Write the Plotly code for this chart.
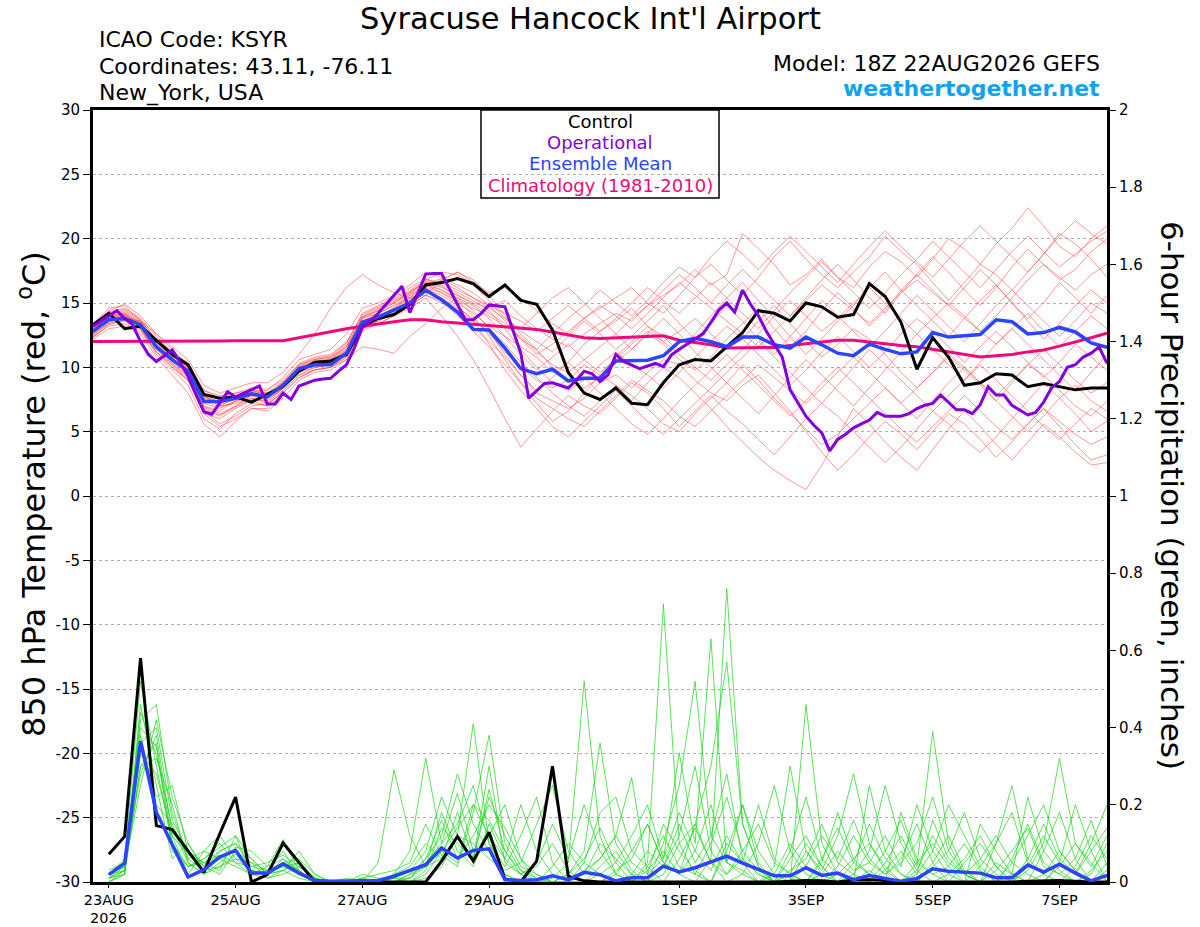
import plotly.graph_objects as go
import pandas as pd

# ---------------- data ----------------
t6 = pd.date_range("2026-08-22 18:00", periods=65, freq="6h")
t3 = pd.date_range("2026-08-22 18:00", periods=129, freq="3h")
tp = t6[1:]

control_t = [13.3, 14.2, 13.0, 13.2, 12.1, 11.0, 10.2, 7.9, 7.6, 7.7,
             7.3, 7.9, 8.5, 9.7, 10.4, 10.5, 11.0, 13.2, 13.8, 14.1,
             14.9, 16.4, 16.6, 16.9, 16.5, 15.5, 16.4, 15.2, 14.9, 12.9,
             9.6, 8.0, 7.5, 8.4, 7.2, 7.1, 8.8, 10.2, 10.6, 10.5,
             11.6, 12.7, 14.4, 14.2, 13.6, 15.0, 14.7, 13.9, 14.1, 16.5,
             15.5, 13.5, 9.85, 12.3, 10.8, 8.6, 8.8, 9.5, 9.4, 8.5,
             8.75, 8.5, 8.25, 8.4, 8.4]

operational_t = [13.2, 13.6, 14.0, 14.4, 13.8, 13.3, 12.0, 11.0, 10.45, 10.9,
                 11.35, 10.4, 9.3, 7.9, 6.55, 6.35, 7.2, 8.1, 7.7, 8.0,
                 8.3, 8.55, 7.15, 7.15, 8.0, 7.5, 8.55, 8.8, 9.0, 9.1,
                 9.15, 9.7, 10.2, 11.5, 13.1, 13.6, 14.2, 14.9, 15.6, 16.3,
                 14.25, 15.8, 17.25, 17.3, 17.3, 16.1, 14.9, 13.7, 13.7, 14.2,
                 14.85, 14.8, 14.7, 12.9, 11.1, 7.6, 8.2, 8.75, 8.8, 8.6,
                 8.4, 9.0, 9.7, 9.5, 8.9, 9.4, 11.0, 10.45, 10.2, 9.9,
                 10.1, 10.3, 10.05, 10.95, 11.4, 11.8, 12.2, 12.6, 13.5, 14.45,
                 15.0, 14.3, 16.0, 14.9, 14.0, 12.8, 11.8, 10.8, 8.25, 7.2,
                 6.2, 5.5, 4.9, 3.5, 4.4, 4.8, 5.3, 5.6, 5.9, 6.5,
                 6.2, 6.2, 6.2, 6.4, 6.8, 7.05, 7.2, 7.85, 7.3, 6.7,
                 6.7, 6.4, 7.1, 8.5, 7.85, 7.85, 7.05, 6.7, 6.3, 6.5,
                 7.3, 8.4, 8.9, 10.0, 10.2, 10.8, 11.1, 11.6, 10.3]

mean_t = [12.8, 13.7, 13.8, 13.3, 11.6, 10.6, 9.7, 7.35, 7.35, 7.6,
          7.95, 7.7, 8.6, 9.9, 10.2, 10.2, 11.1, 13.5, 13.9, 14.45,
          15.0, 16.0, 15.25, 14.3, 12.95, 12.9, 11.5, 9.9, 9.5, 9.85,
          8.95, 9.15, 9.15, 10.5, 10.55, 10.55, 10.9, 12.0, 12.25, 12.0,
          11.6, 12.35, 12.35, 11.75, 11.5, 12.35, 11.75, 11.1, 10.9, 11.8,
          11.4, 11.05, 11.2, 12.7, 12.35, 12.45, 12.55, 13.7, 13.55, 12.6,
          12.7, 13.1, 12.75, 11.9, 11.55]

climatology_t = [12.0, 12.0, 12.0, 12.0, 12.0, 12.02, 12.03, 12.05, 12.05, 12.06,
                 12.06, 12.06, 12.07, 12.3, 12.55, 12.8, 13.0, 13.2, 13.4, 13.55,
                 13.7, 13.7, 13.55, 13.45, 13.35, 13.25, 13.15, 13.05, 12.95, 12.75,
                 12.5, 12.3, 12.25, 12.3, 12.35, 12.4, 12.45, 12.1, 11.95, 11.75,
                 11.5, 11.5, 11.5, 11.55, 11.7, 11.85, 12.0, 12.1, 12.1, 11.95,
                 11.85, 11.7, 11.6, 11.4, 11.2, 11.0, 10.8, 10.9, 11.0, 11.2,
                 11.35, 11.65, 11.95, 12.3, 12.65]

member_01 = [13.2, 14.3, 14.6, 13.8, 12.4, 11.2, 10.0, 8.2, 7.6, 8.0, 8.4, 8.3, 9.0,
             10.3, 10.8, 11.0, 12.0, 14.0, 14.6, 15.2, 15.8, 16.6, 16.2, 15.6, 15.0, 14.6,
             15.2, 14.0, 13.0, 12.2, 11.6, 12.6, 13.4, 14.2, 13.6, 14.8, 15.6, 16.4, 17.6,
             16.4, 17.2, 20.4, 19.2, 18.0, 16.4, 17.2, 18.4, 17.0, 16.2, 17.8, 19.0, 18.2,
             17.0, 18.4, 20.0, 19.2, 18.0, 19.6, 20.8, 22.4, 21.0, 19.4, 18.6, 20.0, 21.0]
member_02 = [12.6, 13.4, 13.6, 13.0, 11.0, 9.8, 8.6, 6.0, 5.2, 6.4, 7.2, 7.0, 8.2,
             9.4, 9.8, 10.0, 10.8, 13.2, 13.6, 14.2, 14.8, 15.6, 15.0, 14.4, 13.6, 12.8,
             11.0, 9.4, 8.0, 7.4, 6.8, 7.6, 8.8, 9.4, 8.4, 9.6, 10.6, 10.2, 9.0,
             8.0, 7.4, 8.6, 9.4, 8.0, 6.6, 5.0, 3.4, 2.0, 3.2, 4.6, 5.8, 4.8,
             3.6, 5.0, 6.4, 5.6, 4.4, 3.0, 4.2, 5.6, 6.8, 5.4, 4.0, 2.8, 3.2]
member_03 = [13.0, 13.8, 14.0, 13.4, 11.8, 10.8, 10.2, 7.8, 7.0, 7.2, 7.6, 7.4, 8.4,
             9.6, 10.2, 10.4, 11.4, 13.8, 14.2, 14.8, 15.4, 16.4, 15.8, 15.0, 14.2, 13.2,
             12.4, 11.6, 10.8, 9.6, 10.4, 11.8, 12.8, 13.6, 14.6, 13.2, 12.0, 12.8, 13.8,
             12.6, 11.4, 12.2, 13.6, 14.8, 13.4, 12.0, 10.8, 11.8, 13.0, 12.2, 11.0, 9.6,
             8.4, 9.6, 10.8, 9.8, 8.6, 7.4, 8.8, 10.2, 9.4, 8.2, 7.0, 6.2, 7.4]
member_04 = [12.9, 13.6, 13.8, 13.6, 12.6, 11.6, 10.6, 8.6, 8.0, 8.4, 8.8, 8.8, 9.6,
             11.0, 12.6, 14.6, 16.2, 17.2, 16.4, 15.8, 15.4, 15.6, 16.8, 17.4, 16.6, 15.8,
             16.2, 15.4, 14.4, 13.4, 12.6, 13.8, 14.6, 15.4, 16.2, 15.0, 14.2, 15.6, 17.0,
             18.0, 16.8, 15.6, 17.0, 18.6, 19.8, 18.4, 17.2, 16.2, 17.4, 18.6, 20.2, 19.0,
             18.0, 16.6, 15.2, 16.6, 18.0, 17.2, 16.0, 17.4, 18.8, 20.4, 19.6, 18.4, 17.0]
member_05 = [12.4, 13.2, 13.4, 12.8, 11.2, 10.0, 9.0, 6.8, 6.2, 7.0, 7.6, 7.2, 8.0,
             9.2, 9.8, 10.0, 10.6, 11.6, 11.4, 11.1, 12.4, 13.4, 14.6, 15.4, 14.4, 13.0,
             11.8, 10.4, 9.2, 8.0, 7.0, 6.2, 7.4, 8.6, 7.8, 6.8, 5.6, 5.0, 6.4,
             7.6, 8.8, 10.2, 9.0, 7.6, 6.4, 5.2, 4.0, 4.8, 6.0, 7.2, 8.4, 7.2,
             6.0, 7.4, 8.8, 10.0, 8.8, 7.4, 6.2, 5.0, 6.2, 7.6, 8.6, 7.4, 6.6]
member_06 = [13.4, 14.6, 14.8, 13.6, 12.2, 10.8, 9.4, 7.0, 6.6, 7.4, 8.0, 7.6, 8.8,
             10.0, 10.4, 10.6, 11.6, 13.6, 14.0, 14.6, 15.6, 16.2, 16.8, 17.4, 16.8, 15.6,
             14.0, 12.6, 11.4, 10.0, 9.0, 8.4, 9.2, 10.4, 11.4, 12.6, 11.8, 10.6, 9.8,
             10.8, 12.2, 13.4, 14.6, 13.0, 11.6, 12.8, 14.4, 15.8, 14.6, 13.2, 14.4, 16.0,
             17.2, 16.0, 14.8, 16.2, 17.6, 16.4, 15.0, 13.8, 15.0, 16.6, 15.4, 14.2, 15.6]
member_07 = [12.2, 13.0, 13.2, 12.6, 10.8, 9.4, 8.0, 5.6, 4.6, 5.8, 6.8, 6.6, 7.6,
             9.0, 9.6, 9.8, 10.6, 13.0, 13.4, 14.0, 14.6, 15.4, 14.0, 12.4, 10.6, 8.4,
             6.0, 3.8, 5.2, 6.6, 7.8, 7.0, 6.4, 7.6, 8.8, 8.0, 6.8, 5.4, 6.6,
             7.8, 6.6, 5.6, 4.4, 3.2, 4.6, 6.0, 7.2, 6.2, 5.0, 3.8, 2.6, 3.8,
             5.2, 6.6, 5.6, 4.4, 3.4, 4.6, 6.0, 7.4, 8.8, 7.6, 6.4, 5.0, 5.8]
member_08 = [12.7, 13.9, 14.2, 13.2, 11.4, 10.4, 9.8, 7.6, 7.2, 7.8, 8.2, 8.0, 8.8,
             10.0, 10.2, 10.4, 11.2, 13.4, 13.8, 14.4, 15.2, 16.2, 15.8, 15.2, 14.6, 14.0,
             13.2, 12.4, 11.2, 10.2, 9.6, 10.6, 11.6, 12.6, 13.8, 14.8, 16.0, 17.2, 16.2,
             15.0, 16.4, 17.6, 16.4, 15.2, 14.0, 15.4, 16.8, 18.0, 16.8, 15.4, 14.2, 15.8,
             17.2, 18.6, 17.4, 16.0, 14.8, 16.2, 17.8, 19.2, 18.0, 16.8, 17.6, 19.0, 20.0]
member_09 = [12.5, 13.5, 13.9, 13.1, 11.2, 10.2, 9.2, 6.6, 5.6, 6.2, 7.0, 7.2, 8.4,
             9.6, 10.0, 10.2, 11.0, 13.0, 13.6, 14.2, 15.0, 15.8, 15.4, 14.6, 13.8, 12.6,
             11.2, 10.0, 9.0, 8.4, 9.0, 10.2, 9.4, 8.6, 7.4, 8.8, 10.0, 9.2, 8.0,
             6.8, 5.4, 4.2, 3.0, 2.0, 1.2, 0.5, 2.4, 4.6, 6.8, 5.6, 4.2, 3.0,
             2.0, 3.6, 5.2, 6.6, 5.4, 4.0, 2.8, 4.2, 5.6, 4.6, 3.4, 2.4, 2.6]
member_10 = [13.1, 14.1, 14.4, 13.6, 11.8, 10.6, 9.6, 7.2, 6.8, 7.4, 7.8, 7.6, 8.6,
             9.8, 10.4, 10.6, 11.4, 13.8, 14.4, 15.0, 15.8, 16.8, 17.4, 17.2, 16.4, 15.2,
             13.8, 12.8, 12.0, 11.2, 12.4, 13.6, 12.6, 11.4, 12.4, 13.6, 14.8, 13.4, 12.2,
             13.4, 14.8, 13.6, 12.2, 11.0, 12.4, 13.8, 15.2, 14.0, 12.8, 11.6, 12.8, 14.2,
             15.6, 14.4, 13.2, 12.0, 13.4, 14.8, 16.0, 14.8, 13.6, 12.4, 13.6, 15.0, 14.2]
member_11 = [12.8, 13.6, 13.9, 13.4, 12.0, 11.0, 10.4, 8.2, 7.8, 8.0, 8.2, 7.8, 8.8,
             10.2, 10.6, 10.8, 11.8, 14.2, 14.8, 15.4, 16.2, 16.9, 16.4, 15.8, 15.2, 14.4,
             13.0, 11.4, 10.0, 8.8, 8.2, 9.0, 10.2, 11.2, 10.2, 9.4, 8.4, 9.6, 10.8,
             12.0, 13.2, 12.2, 11.0, 9.8, 8.6, 9.8, 11.2, 12.4, 11.2, 10.0, 11.2, 12.6,
             13.8, 12.8, 11.6, 10.4, 11.6, 12.8, 11.6, 10.4, 9.2, 10.4, 11.8, 10.8, 9.8]
member_12 = [12.3, 13.3, 13.7, 13.0, 11.4, 10.2, 9.0, 6.4, 6.0, 6.8, 7.4, 7.0, 8.2,
             9.4, 10.0, 10.2, 11.0, 13.2, 13.8, 14.4, 15.2, 16.0, 15.2, 14.0, 12.8, 11.6,
             10.2, 8.8, 7.6, 6.8, 6.0, 5.4, 6.6, 7.8, 9.0, 8.2, 7.4, 6.2, 5.4,
             6.6, 7.8, 9.0, 10.2, 9.2, 8.2, 7.2, 8.4, 9.6, 10.8, 9.6, 8.4, 7.2,
             8.4, 9.6, 11.0, 10.0, 8.8, 7.8, 9.0, 10.2, 11.4, 10.2, 9.0, 8.0, 8.8]
member_13 = [13.3, 14.4, 14.9, 14.0, 12.6, 11.4, 10.2, 7.8, 7.0, 7.6, 8.2, 8.2, 9.2,
             10.6, 11.0, 11.4, 12.6, 14.6, 15.0, 15.6, 16.4, 17.4, 17.0, 16.4, 15.8, 14.8,
             13.6, 12.2, 11.4, 12.6, 13.8, 14.8, 16.0, 15.0, 14.0, 15.2, 16.6, 17.8, 17.0,
             18.6, 19.8, 18.8, 17.6, 19.0, 20.2, 19.0, 17.8, 16.6, 18.0, 19.4, 20.6, 19.4,
             18.2, 17.0, 18.4, 19.8, 21.0, 19.8, 18.6, 17.4, 18.8, 20.2, 21.4, 20.4, 19.6]
member_14 = [12.6, 13.8, 14.1, 13.3, 11.6, 10.4, 9.4, 7.0, 6.4, 7.0, 7.8, 7.8, 8.6,
             9.8, 10.2, 10.4, 11.2, 13.4, 14.0, 14.6, 15.4, 16.4, 16.0, 15.4, 14.8, 13.8,
             12.4, 11.0, 9.8, 10.8, 11.8, 10.6, 9.6, 10.6, 11.8, 12.8, 12.0, 11.0, 10.0,
             9.0, 10.2, 11.4, 12.6, 14.0, 15.2, 14.0, 12.8, 13.8, 15.0, 16.2, 15.0, 13.8,
             12.6, 13.8, 15.0, 14.0, 12.8, 11.8, 13.0, 14.2, 12.8, 11.6, 12.8, 14.0, 13.0]
member_15 = [12.9, 14.0, 14.3, 13.5, 11.9, 10.9, 9.9, 7.5, 7.1, 7.5, 8.0, 7.9, 8.7,
             10.1, 10.6, 10.8, 11.6, 13.9, 14.5, 15.1, 15.9, 16.6, 16.0, 15.2, 14.0, 12.4,
             10.6, 8.8, 7.2, 5.8, 6.6, 8.0, 9.4, 10.8, 12.0, 13.2, 12.4, 11.2, 12.6,
             14.0, 15.4, 16.6, 15.2, 13.8, 12.4, 11.0, 12.2, 13.6, 14.8, 16.2, 17.4, 16.0,
             14.8, 13.6, 12.4, 13.8, 15.2, 16.4, 15.0, 13.6, 12.2, 13.4, 14.8, 16.0, 15.0]
member_16 = [13.0, 14.0, 14.2, 13.4, 11.6, 10.6, 9.6, 7.4, 6.9, 7.3, 7.8, 7.6, 8.6,
             9.9, 10.3, 10.5, 11.3, 13.6, 14.2, 14.8, 15.6, 16.5, 16.9, 16.2, 15.4, 14.6,
             13.8, 13.0, 14.2, 15.4, 16.2, 15.0, 13.8, 12.6, 11.4, 12.6, 13.8, 12.6, 11.2,
             10.0, 8.8, 7.6, 6.4, 7.8, 9.2, 10.6, 9.4, 8.2, 7.0, 8.4, 9.8, 11.2,
             12.6, 11.4, 10.2, 9.0, 10.4, 11.8, 13.0, 11.8, 10.6, 9.4, 8.2, 9.6, 11.0]
member_17 = [12.4, 13.4, 13.7, 13.0, 11.2, 10.0, 9.0, 6.4, 5.4, 6.0, 6.8, 6.8, 8.0,
             9.2, 9.8, 10.0, 10.8, 12.8, 13.4, 14.0, 14.8, 15.6, 15.2, 14.2, 13.2, 12.0,
             10.8, 9.4, 8.2, 9.2, 10.4, 9.2, 8.0, 6.8, 5.6, 4.8, 6.0, 7.4, 8.6,
             9.8, 11.0, 9.8, 8.6, 7.4, 6.2, 7.4, 8.8, 10.0, 8.8, 7.6, 6.4, 5.2,
             4.2, 5.4, 6.6, 7.8, 6.6, 5.4, 4.4, 5.6, 6.8, 5.8, 4.8, 4.0, 4.6]
member_18 = [13.1, 14.2, 14.5, 13.7, 12.1, 11.0, 10.0, 7.7, 7.3, 7.7, 8.1, 8.0, 8.9,
             10.2, 10.7, 10.9, 11.9, 14.1, 14.7, 15.3, 16.0, 16.8, 16.6, 16.0, 15.4, 14.8,
             14.2, 13.6, 12.8, 13.8, 14.8, 13.8, 12.8, 13.8, 15.0, 16.2, 15.2, 14.2, 15.4,
             16.6, 15.4, 14.2, 13.0, 14.4, 15.8, 17.0, 18.2, 17.0, 15.8, 14.6, 15.8, 17.2,
             18.4, 19.8, 18.6, 17.4, 16.2, 17.6, 19.0, 20.2, 19.0, 17.8, 18.8, 19.8, 20.6]
member_19 = [12.7, 13.7, 14.0, 13.2, 11.5, 10.3, 9.3, 6.9, 6.3, 6.9, 7.5, 7.4, 8.4,
             9.7, 10.1, 10.3, 11.1, 13.3, 13.9, 14.5, 15.3, 16.1, 15.6, 14.8, 13.6, 11.8,
             9.8, 8.2, 6.8, 5.4, 4.6, 5.8, 7.0, 8.2, 7.0, 5.8, 4.8, 6.0, 7.2,
             8.4, 9.6, 10.8, 12.0, 10.8, 9.6, 8.4, 7.2, 8.6, 10.0, 11.4, 10.2, 9.0,
             7.8, 6.6, 7.8, 9.0, 10.2, 9.0, 7.8, 6.6, 5.4, 4.4, 5.6, 6.8, 6.0]
member_20 = [13.0, 13.9, 14.1, 13.5, 12.0, 11.0, 10.0, 7.8, 7.3, 7.6, 8.0, 7.8, 8.8,
             10.0, 10.5, 10.7, 11.6, 13.9, 14.4, 15.0, 15.7, 16.7, 16.3, 15.6, 14.9, 14.2,
             13.4, 12.2, 11.0, 11.8, 12.8, 13.8, 14.8, 14.0, 13.0, 14.2, 15.4, 16.6, 15.6,
             14.6, 13.6, 12.6, 11.6, 12.8, 14.0, 15.2, 16.4, 15.4, 14.4, 13.4, 14.6, 15.8,
             16.8, 15.8, 14.8, 13.8, 12.8, 14.0, 15.4, 16.8, 18.0, 17.0, 16.0, 17.2, 18.0]

control_p = [0.072, 0.118, 0.58, 0.146, 0.136, 0.08, 0.025, 0.125, 0.22, 0.0, 0.019, 0.101, 0.049, 0.0, 0.0, 0.0,
             0.0, 0.0, 0.0, 0.0, 0.0, 0.054, 0.118, 0.054, 0.129, 0.008, 0.0, 0.054, 0.30, 0.015, 0.003, 0.0,
             0.0, 0.0, 0.0, 0.0, 0.0, 0.0, 0.0, 0.0, 0.0, 0.0, 0.0, 0.002, 0.004, 0.003, 0.0, 0.005,
             0.006, 0.004, 0.0, 0.0, 0.0, 0.0, 0.0, 0.0, 0.0, 0.0, 0.002, 0.003, 0.004, 0.002, 0.0, 0.0]
mean_p = [0.019, 0.049, 0.365, 0.18, 0.097, 0.013, 0.032, 0.065, 0.082, 0.023, 0.023, 0.047, 0.023, 0.004, 0.002, 0.002,
          0.003, 0.004, 0.015, 0.03, 0.045, 0.088, 0.062, 0.082, 0.086, 0.006, 0.004, 0.006, 0.016, 0.006, 0.025, 0.019,
          0.003, 0.011, 0.011, 0.041, 0.026, 0.037, 0.052, 0.067, 0.049, 0.032, 0.016, 0.016, 0.037, 0.017, 0.023, 0.006,
          0.017, 0.009, 0.002, 0.009, 0.034, 0.028, 0.026, 0.023, 0.011, 0.011, 0.044, 0.026, 0.046, 0.023, 0.003, 0.017]

precip_01 = [0.02, 0.06, 0.52, 0.30, 0.10, 0.04, 0.06, 0.10, 0.05, 0.02, 0.01, 0.03, 0.01, 0.0, 0.0, 0.0,
             0.0, 0.0, 0.01, 0.03, 0.08, 0.22, 0.12, 0.06, 0.30, 0.05, 0.02, 0.0, 0.01, 0.05, 0.52, 0.12,
             0.02, 0.0, 0.05, 0.72, 0.10, 0.02, 0.0, 0.08, 0.20, 0.05, 0.0, 0.02, 0.10, 0.04, 0.0, 0.0,
             0.25, 0.08, 0.02, 0.0, 0.05, 0.12, 0.03, 0.0, 0.0, 0.06, 0.15, 0.05, 0.02, 0.0, 0.03, 0.08]
precip_02 = [0.01, 0.04, 0.42, 0.46, 0.18, 0.06, 0.03, 0.08, 0.10, 0.04, 0.03, 0.08, 0.02, 0.0, 0.0, 0.01,
             0.0, 0.0, 0.0, 0.01, 0.05, 0.10, 0.23, 0.08, 0.12, 0.20, 0.06, 0.0, 0.0, 0.02, 0.08, 0.36,
             0.10, 0.03, 0.0, 0.02, 0.10, 0.15, 0.30, 0.57, 0.15, 0.04, 0.0, 0.0, 0.46, 0.10, 0.02, 0.0,
             0.0, 0.05, 0.12, 0.04, 0.39, 0.10, 0.02, 0.0, 0.05, 0.02, 0.0, 0.08, 0.18, 0.06, 0.0, 0.02]
precip_03 = [0.0, 0.03, 0.35, 0.22, 0.25, 0.08, 0.05, 0.03, 0.12, 0.06, 0.02, 0.05, 0.06, 0.02, 0.0, 0.0,
             0.01, 0.02, 0.03, 0.05, 0.15, 0.07, 0.04, 0.18, 0.38, 0.10, 0.03, 0.01, 0.0, 0.0, 0.05, 0.18,
             0.22, 0.08, 0.15, 0.05, 0.02, 0.0, 0.06, 0.76, 0.15, 0.04, 0.0, 0.0, 0.08, 0.03, 0.12, 0.28,
             0.10, 0.03, 0.0, 0.02, 0.08, 0.20, 0.12, 0.04, 0.0, 0.0, 0.03, 0.10, 0.32, 0.10, 0.04, 0.12]
precip_04 = [0.03, 0.05, 0.28, 0.38, 0.12, 0.02, 0.08, 0.06, 0.04, 0.02, 0.04, 0.11, 0.03, 0.0, 0.0, 0.0,
             0.0, 0.0, 0.02, 0.08, 0.32, 0.10, 0.15, 0.25, 0.10, 0.04, 0.12, 0.22, 0.05, 0.0, 0.0, 0.02,
             0.05, 0.12, 0.20, 0.06, 0.335, 0.10, 0.63, 0.05, 0.20, 0.08, 0.02, 0.0, 0.0, 0.05, 0.18, 0.06,
             0.02, 0.0, 0.0, 0.05, 0.10, 0.04, 0.0, 0.15, 0.08, 0.02, 0.0, 0.0, 0.05, 0.20, 0.08, 0.0]
precip_05 = [0.01, 0.02, 0.46, 0.25, 0.06, 0.10, 0.04, 0.02, 0.08, 0.05, 0.01, 0.02, 0.04, 0.01, 0.0, 0.0,
             0.0, 0.05, 0.29, 0.12, 0.04, 0.06, 0.12, 0.41, 0.10, 0.02, 0.0, 0.0, 0.0, 0.0, 0.0, 0.04,
             0.08, 0.02, 0.0, 0.10, 0.25, 0.52, 0.12, 0.05, 0.03, 0.0, 0.0, 0.06, 0.12, 0.04, 0.0, 0.02,
             0.08, 0.25, 0.10, 0.03, 0.0, 0.02, 0.06, 0.12, 0.04, 0.0, 0.0, 0.02, 0.05, 0.02, 0.10, 0.20]
precip_06 = [0.02, 0.03, 0.30, 0.32, 0.20, 0.05, 0.02, 0.05, 0.09, 0.08, 0.04, 0.06, 0.02, 0.0, 0.0, 0.0,
             0.0, 0.0, 0.01, 0.01, 0.04, 0.18, 0.08, 0.04, 0.15, 0.06, 0.20, 0.08, 0.02, 0.0, 0.0, 0.0,
             0.03, 0.06, 0.15, 0.05, 0.02, 0.08, 0.20, 0.05, 0.02, 0.0, 0.04, 0.30, 0.08, 0.02, 0.0, 0.05,
             0.15, 0.06, 0.02, 0.0, 0.04, 0.08, 0.18, 0.06, 0.02, 0.0, 0.04, 0.12, 0.05, 0.02, 0.0, 0.05]
precip_07 = [0.0, 0.02, 0.38, 0.20, 0.15, 0.06, 0.08, 0.12, 0.06, 0.03, 0.02, 0.04, 0.05, 0.01, 0.0, 0.0,
             0.0, 0.0, 0.0, 0.0, 0.01, 0.04, 0.12, 0.10, 0.06, 0.03, 0.05, 0.15, 0.25, 0.08, 0.02, 0.06,
             0.12, 0.27, 0.02, 0.15, 0.08, 0.03, 0.0, 0.10, 0.05, 0.20, 0.06, 0.02, 0.0, 0.02, 0.08, 0.03,
             0.05, 0.12, 0.04, 0.20, 0.08, 0.02, 0.0, 0.0, 0.03, 0.08, 0.14, 0.04, 0.02, 0.06, 0.16, 0.04]
precip_08 = [0.02, 0.04, 0.25, 0.42, 0.22, 0.10, 0.03, 0.04, 0.07, 0.03, 0.02, 0.03, 0.08, 0.02, 0.0, 0.0,
             0.0, 0.0, 0.0, 0.02, 0.06, 0.12, 0.28, 0.15, 0.08, 0.02, 0.0, 0.0, 0.04, 0.10, 0.05, 0.02,
             0.0, 0.02, 0.08, 0.04, 0.12, 0.30, 0.08, 0.02, 0.06, 0.02, 0.0, 0.08, 0.22, 0.06, 0.02, 0.0,
             0.03, 0.0, 0.18, 0.06, 0.02, 0.04, 0.10, 0.03, 0.0, 0.02, 0.22, 0.08, 0.03, 0.0, 0.02, 0.10]
precip_09 = [0.01, 0.03, 0.40, 0.35, 0.08, 0.04, 0.06, 0.09, 0.12, 0.02, 0.03, 0.05, 0.03, 0.0, 0.0, 0.0,
             0.02, 0.01, 0.0, 0.0, 0.02, 0.08, 0.05, 0.20, 0.12, 0.06, 0.02, 0.05, 0.15, 0.06, 0.20, 0.08,
             0.02, 0.0, 0.03, 0.08, 0.02, 0.15, 0.05, 0.0, 0.02, 0.10, 0.25, 0.08, 0.02, 0.0, 0.04, 0.12,
             0.05, 0.02, 0.06, 0.15, 0.05, 0.0, 0.0, 0.04, 0.10, 0.25, 0.06, 0.02, 0.0, 0.04, 0.12, 0.06]
precip_10 = [0.02, 0.05, 0.33, 0.28, 0.12, 0.07, 0.05, 0.07, 0.05, 0.04, 0.05, 0.07, 0.04, 0.01, 0.0, 0.0,
             0.0, 0.0, 0.02, 0.04, 0.10, 0.06, 0.18, 0.06, 0.22, 0.12, 0.04, 0.02, 0.0, 0.0, 0.02, 0.10,
             0.06, 0.02, 0.0, 0.04, 0.15, 0.05, 0.12, 0.28, 0.06, 0.02, 0.0, 0.03, 0.06, 0.15, 0.05, 0.02,
             0.0, 0.03, 0.08, 0.02, 0.16, 0.06, 0.02, 0.0, 0.10, 0.18, 0.05, 0.02, 0.08, 0.03, 0.0, 0.03]
precip_11 = [0.01, 0.03, 0.36, 0.40, 0.16, 0.08, 0.04, 0.06, 0.08, 0.03, 0.02, 0.06, 0.03, 0.0, 0.0, 0.0,
             0.0, 0.0, 0.0, 0.02, 0.04, 0.08, 0.14, 0.20, 0.16, 0.08, 0.03, 0.0, 0.0, 0.0, 0.03, 0.06,
             0.12, 0.05, 0.02, 0.06, 0.18, 0.08, 0.03, 0.12, 0.05, 0.0, 0.02, 0.10, 0.04, 0.0, 0.02, 0.06,
             0.10, 0.04, 0.0, 0.03, 0.12, 0.05, 0.02, 0.06, 0.12, 0.05, 0.02, 0.0, 0.04, 0.10, 0.05, 0.0]
precip_12 = [0.02, 0.04, 0.44, 0.33, 0.14, 0.05, 0.02, 0.04, 0.06, 0.05, 0.03, 0.04, 0.02, 0.0, 0.0, 0.0,
             0.0, 0.0, 0.01, 0.0, 0.03, 0.14, 0.10, 0.06, 0.24, 0.08, 0.02, 0.04, 0.10, 0.03, 0.0, 0.0,
             0.02, 0.08, 0.04, 0.0, 0.06, 0.14, 0.05, 0.02, 0.08, 0.15, 0.05, 0.02, 0.0, 0.06, 0.14, 0.05,
             0.02, 0.08, 0.16, 0.05, 0.02, 0.0, 0.05, 0.10, 0.04, 0.0, 0.06, 0.15, 0.06, 0.02, 0.08, 0.14]
precip_13 = [0.0, 0.02, 0.30, 0.36, 0.10, 0.04, 0.05, 0.08, 0.10, 0.06, 0.02, 0.03, 0.05, 0.01, 0.0, 0.0,
             0.01, 0.0, 0.0, 0.01, 0.06, 0.16, 0.06, 0.12, 0.20, 0.14, 0.06, 0.02, 0.0, 0.02, 0.06, 0.14,
             0.05, 0.0, 0.04, 0.12, 0.04, 0.02, 0.10, 0.22, 0.08, 0.03, 0.0, 0.0, 0.04, 0.12, 0.06, 0.16,
             0.06, 0.02, 0.05, 0.10, 0.22, 0.08, 0.02, 0.0, 0.0, 0.05, 0.12, 0.20, 0.08, 0.03, 0.0, 0.02]

temp_members = [member_01, member_02, member_03, member_04, member_05, member_06, member_07,
                member_08, member_09, member_10, member_11, member_12, member_13, member_14,
                member_15, member_16, member_17, member_18, member_19, member_20]
precip_members = [precip_01, precip_02, precip_03, precip_04, precip_05, precip_06, precip_07,
                  precip_08, precip_09, precip_10, precip_11, precip_12, precip_13]

x_tick_dates = ["2026-08-23", "2026-08-25", "2026-08-27", "2026-08-29",
                "2026-09-01", "2026-09-03", "2026-09-05", "2026-09-07"]
x_tick_labels = ["23AUG", "25AUG", "27AUG", "29AUG", "1SEP", "3SEP", "5SEP", "7SEP"]
year_label = "2026"
t_ticks = [-30, -25, -20, -15, -10, -5, 0, 5, 10, 15, 20, 25, 30]
p_ticks = [0, 0.2, 0.4, 0.6, 0.8, 1.0, 1.2, 1.4, 1.6, 1.8, 2.0]
p_labels = ["0", "0.2", "0.4", "0.6", "0.8", "1", "1.2", "1.4", "1.6", "1.8", "2"]

# ---------------- figure ----------------
FONT = "DejaVu Sans, Verdana, sans-serif"
W, H = 1200, 927
L, R, T, B = 93, 93, 110, 45

C_OPER = "#8300dd"
C_MEAN = "#2b44ff"
C_CLIM = "#f0087c"


def px(x):
    return (x - L) / (W - L - R)


def py(y):
    return (H - B - y) / (H - T - B)


fig = go.Figure()

for m in temp_members:
    fig.add_trace(go.Scatter(x=t6, y=m, mode="lines", yaxis="y",
                             line=dict(color="rgba(255,70,70,0.7)", width=0.8),
                             hoverinfo="skip", showlegend=False))
for g in precip_members:
    fig.add_trace(go.Scatter(x=tp, y=g, mode="lines", yaxis="y2",
                             line=dict(color="rgba(25,215,25,0.9)", width=0.8),
                             hoverinfo="skip", showlegend=False))

fig.add_trace(go.Scatter(x=tp, y=control_p, mode="lines", yaxis="y2",
                         line=dict(color="black", width=3), showlegend=False))
fig.add_trace(go.Scatter(x=tp, y=mean_p, mode="lines", yaxis="y2",
                         line=dict(color=C_MEAN, width=3.5), showlegend=False))

fig.add_trace(go.Scatter(x=t6, y=climatology_t, mode="lines", yaxis="y",
                         line=dict(color=C_CLIM, width=3), showlegend=False))
fig.add_trace(go.Scatter(x=t6, y=control_t, mode="lines", yaxis="y",
                         line=dict(color="black", width=3), showlegend=False))
fig.add_trace(go.Scatter(x=t6, y=mean_t, mode="lines", yaxis="y",
                         line=dict(color=C_MEAN, width=3.5), showlegend=False))
fig.add_trace(go.Scatter(x=t3, y=operational_t, mode="lines", yaxis="y",
                         line=dict(color=C_OPER, width=3), showlegend=False))

annotations = [
    dict(text="Syracuse Hancock Int'l Airport", x=px(590), y=py(18), font=dict(size=30.5)),
    dict(text="ICAO Code: KSYR", x=px(97), y=py(40), xanchor="left", font=dict(size=22)),
    dict(text="Coordinates: 43.11, -76.11", x=px(97), y=py(66), xanchor="left", font=dict(size=22)),
    dict(text="New_York, USA", x=px(97), y=py(93), xanchor="left", font=dict(size=22)),
    dict(text="Model: 18Z 22AUG2026 GEFS", x=px(1102), y=py(63), xanchor="right", font=dict(size=22)),
    dict(text="<b>weathertogether.net</b>", x=px(1102), y=py(89), xanchor="right",
         font=dict(size=22, color="#12a2f2")),
    dict(text="Control", x=px(600), y=py(121), font=dict(size=18, color="black")),
    dict(text="Operational", x=px(600), y=py(142), font=dict(size=18, color=C_OPER)),
    dict(text="Ensemble Mean", x=px(600), y=py(163), font=dict(size=18, color=C_MEAN)),
    dict(text="Climatology (1981-2010)", x=px(600), y=py(185), font=dict(size=18, color=C_CLIM)),
    dict(text="850 hPa Temperature (red, <sup>o</sup>C)", x=px(32), y=py(494), textangle=-90,
         font=dict(size=32)),
    dict(text="6-hour Precipitation (green, inches)", x=px(1172), y=py(495), textangle=90,
         font=dict(size=31)),
    dict(text=year_label, x=px(108), y=py(918), font=dict(size=14.5)),
]
for a in annotations:
    a.setdefault("xanchor", "center")
    a.update(xref="paper", yref="paper", showarrow=False, yanchor="middle")
    a["font"].setdefault("color", "black")
    a["font"]["family"] = FONT

fig.update_layout(
    width=W, height=H,
    margin=dict(l=L, r=R, t=T, b=B, pad=0, autoexpand=False),
    paper_bgcolor="white", plot_bgcolor="white",
    font=dict(family=FONT, size=15, color="black"),
    showlegend=False,
    annotations=annotations,
    shapes=[dict(type="rect", xref="paper", yref="paper",
                 x0=px(481), x1=px(719), y0=py(198), y1=py(110),
                 line=dict(color="black", width=1.5), fillcolor="rgba(255,255,255,0)")],
    xaxis=dict(range=[t6[0], t6[-1]], tickvals=pd.to_datetime(x_tick_dates), ticktext=x_tick_labels,
               ticks="outside", ticklen=3, tickwidth=1, tickcolor="black",
               showline=True, linecolor="black", linewidth=3, mirror=True, automargin=False,
               showgrid=False, zeroline=False, tickfont=dict(size=14.5)),
    yaxis=dict(range=[-30, 30], tickvals=t_ticks, ticktext=[str(v) for v in t_ticks],
               ticks="outside", ticklen=7, tickwidth=1, tickcolor="black",
               showline=True, linecolor="black", linewidth=3, automargin=False,
               showgrid=True, gridcolor="#b0b0b0", griddash="dot", gridwidth=1,
               zeroline=False, tickfont=dict(size=15)),
    yaxis2=dict(range=[0, 2], overlaying="y", side="right", tickvals=p_ticks, ticktext=p_labels,
                ticks="outside", ticklen=6, tickwidth=1, tickcolor="black",
                showline=True, linecolor="black", linewidth=3, automargin=False,
                showgrid=False, zeroline=False, tickfont=dict(size=15)),
)

fig.write_html("out.html", config={"displayModeBar": False},
               post_script="document.body.style.margin='0px';")
